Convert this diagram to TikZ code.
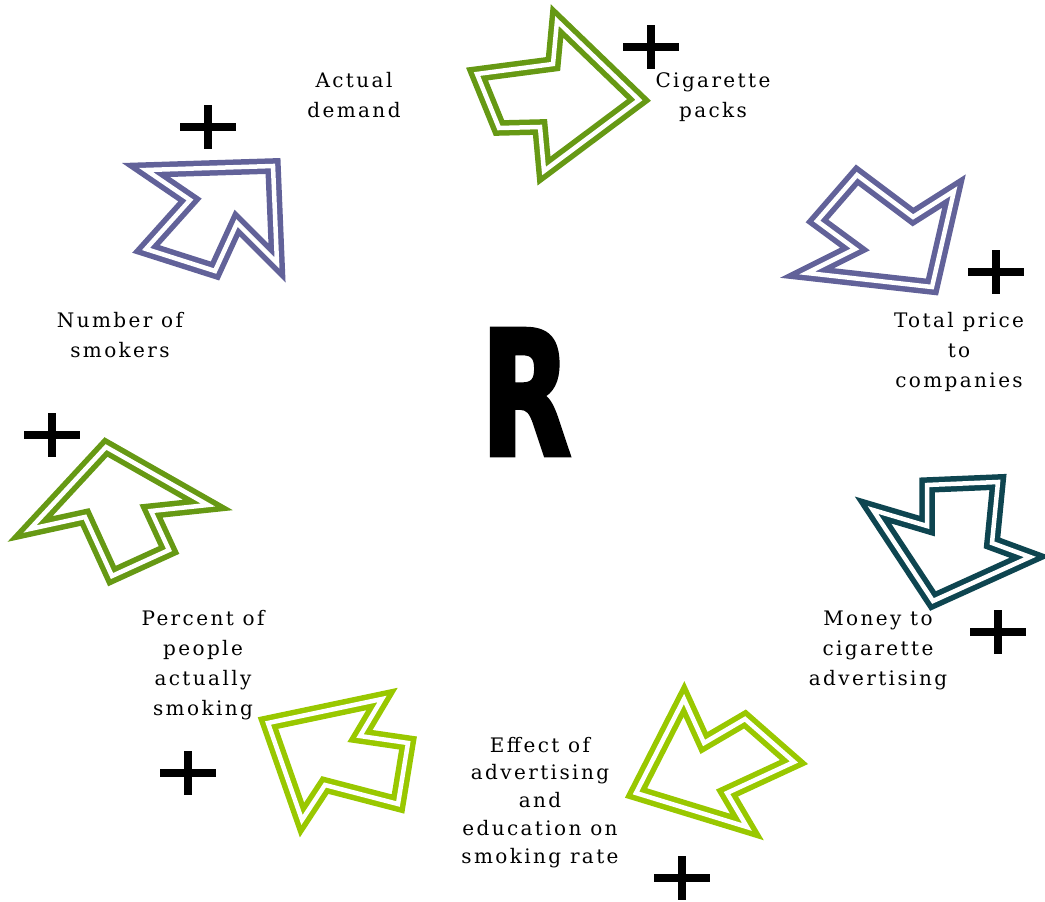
\documentclass[tikz,border=0pt]{standalone}
\usepackage{fontspec}
\setmainfont{DejaVu Serif}[LetterSpace=12]
\newfontfamily\Rfont{DejaVu Sans}[BoldFeatures={FakeBold=3}]
\definecolor{cgreen}{HTML}{669914}
\definecolor{cblue}{HTML}{626299}
\definecolor{cteal}{HTML}{0E4550}
\definecolor{clime}{HTML}{99C800}
\usetikzlibrary{calc}
\tikzset{
  blockarrow/.style={draw=#1, double=white, line width=5.5pt, double distance=4.5pt, line join=miter, miter limit=20},
  lbl/.style={align=center, font=\fontsize{20}{30}\selectfont, inner sep=0pt, text depth=0pt},
  plussign/.style={line width=7.5pt, black}
}
\newcommand{\plusat}[1]{\draw[plussign] ($(#1)+(-28,0)$) -- ($(#1)+(28,0)$); \draw[plussign] ($(#1)+(0,-22)$) -- ($(#1)+(0,22)$);}
\begin{document}
\begin{tikzpicture}[x=1pt,y=-1pt]
\useasboundingbox (0,0) rectangle (1045,902);
% arrows
\draw[blockarrow=cgreen] (477,74) -- (553,64) -- (557,21) -- (639,100) -- (544,171) -- (540,127) -- (499,128) -- cycle;
\draw[blockarrow=cblue] (146,170) -- (273,166) -- (277,263) -- (237,223) -- (215,271) -- (146,249) -- (190,200) -- cycle;
\draw[blockarrow=cblue] (857,175) -- (913,217) -- (954,191) -- (932,287) -- (807,273) -- (855,249) -- (817,221) -- cycle;
\draw[blockarrow=cteal] (927,485) -- (998,482) -- (992,543) -- (1030,557) -- (933,601) -- (873,510) -- (927,526) -- cycle;
\draw[blockarrow=clime] (684,699) -- (704,743) -- (745,719) -- (794,762) -- (727,793) -- (747,827) -- (636,793) -- cycle;
\draw[blockarrow=clime] (268,723) -- (382,699) -- (360,736) -- (408,743) -- (398,804) -- (325,785) -- (302,820) -- cycle;
\draw[blockarrow=cgreen] (106,447) -- (208,505) -- (151,511) -- (169,550) -- (112,576) -- (85,517) -- (30,529) -- cycle;
% plus signs
\coordinate (p1) at (651,47);
\coordinate (p2) at (208,127);
\coordinate (p3) at (996,272);
\coordinate (p4) at (52,435);
\coordinate (p5) at (998,632);
\coordinate (p6) at (188,773);
\coordinate (p7) at (682,878);
\foreach \p in {p1,p2,p3,p4,p5,p6,p7} {\plusat{\p}}
% labels
\node[lbl] (actual) at (354,95) {Actual\\demand};
\node[lbl] (packs) at (713,95) {Cigarette\\packs};
\node[lbl] (price) at (959,350) {Total price\\to\\companies};
\node[lbl] (money) at (878,648) {Money to\\cigarette\\advertising};
\node[lbl, font=\fontsize{20}{27.8}\selectfont] (effect) at (540,800) {Effect of\\advertising\\and\\education on\\smoking rate};
\node[lbl] (percent) at (203,663) {Percent of\\people\\actually\\smoking};
\node[lbl] (smokers) at (120,335) {Number of\\smokers};
\node[inner sep=0pt, xscale=0.68, transform shape, font=\Rfont\bfseries\fontsize{172}{172}\selectfont] (R) at (526,392) {R};
\end{tikzpicture}
\end{document}
